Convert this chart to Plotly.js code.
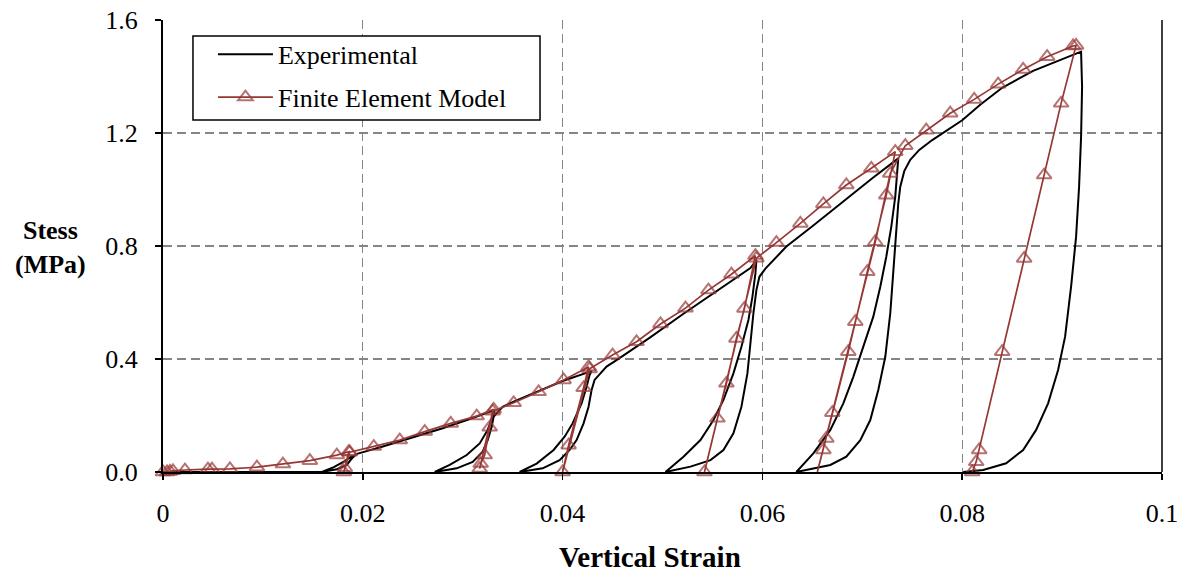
<!DOCTYPE html>
<html>
<head>
<meta charset="utf-8">
<script src="https://cdn.plot.ly/plotly-3.0.1.min.js"></script>
<style>html,body{margin:0;padding:0;background:#fff;}#chart{width:1186px;height:575px;}</style>
</head>
<body>
<div id="chart"></div>
<script>
// Experimental stress-strain curve (strain, stress MPa)
const expStrain = [
  0, 0.008, 0.0159, 0.0174, 0.0184, 0.0189, 0.0190,
  0.0181, 0.0171, 0.0159,
  0.0174, 0.0184, 0.0189, 0.0193,
  0.0195, 0.022, 0.025, 0.028, 0.0305, 0.0332,
  0.0330, 0.0325, 0.0317, 0.0304, 0.0287, 0.0272,
  0.0294, 0.0310, 0.0320, 0.0325, 0.0329, 0.0331, 0.0334, 0.0340, 0.0351,
  0.0375, 0.0400, 0.0429,
  0.0427, 0.0424, 0.0419, 0.0410, 0.0402, 0.0391, 0.0374, 0.0357,
  0.0380, 0.0397, 0.0407, 0.0414, 0.0421, 0.0426, 0.0429, 0.0432, 0.0436, 0.0444, 0.0454,
  0.0487, 0.0521, 0.0554, 0.0588, 0.0594,
  0.0593, 0.0590, 0.0586, 0.0579, 0.0571, 0.0561, 0.0551, 0.0538, 0.0521, 0.0503,
  0.0528, 0.0548, 0.0561, 0.0571, 0.0579, 0.0585, 0.0588, 0.0591, 0.0594, 0.0597, 0.0603, 0.0614, 0.0624,
  0.0650, 0.0680, 0.0710, 0.0736,
  0.0735, 0.0733, 0.0729, 0.0724, 0.0718, 0.0711, 0.0701, 0.0691, 0.0681, 0.0668, 0.0651, 0.0634,
  0.0668, 0.0684, 0.0698, 0.0708, 0.0716, 0.0723, 0.0728, 0.0731, 0.0734, 0.0736, 0.0738, 0.0742, 0.0748, 0.0757, 0.0770, 0.0785,
  0.0800, 0.0818, 0.0840, 0.0871, 0.0898, 0.0919,
  0.0920, 0.0919, 0.0917, 0.0914, 0.0909, 0.0903, 0.0896, 0.0886, 0.0874, 0.0861, 0.0844, 0.0821, 0.0801
];
const expStress = [
  0, 0.001, 0.0, 0.010, 0.025, 0.048, 0.058,
  0.037, 0.017, 0.0,
  0.010, 0.025, 0.048, 0.062,
  0.065, 0.090, 0.122, 0.155, 0.185, 0.219,
  0.196, 0.149, 0.101, 0.060, 0.025, 0.0,
  0.013, 0.036, 0.072, 0.113, 0.160, 0.196, 0.208, 0.231, 0.249,
  0.285, 0.322, 0.357,
  0.343, 0.302, 0.243, 0.172, 0.125, 0.078, 0.030, 0.0,
  0.013, 0.042, 0.078, 0.113, 0.172, 0.231, 0.290, 0.326, 0.343, 0.373, 0.396,
  0.475, 0.560, 0.640, 0.722, 0.750,
  0.703, 0.620, 0.538, 0.443, 0.349, 0.255, 0.184, 0.113, 0.054, 0.0,
  0.019, 0.042, 0.078, 0.137, 0.231, 0.349, 0.467, 0.562, 0.644, 0.691, 0.720, 0.762, 0.798,
  0.870, 0.955, 1.040, 1.110,
  1.057, 0.975, 0.868, 0.762, 0.656, 0.550, 0.444, 0.337, 0.243, 0.149, 0.066, 0.0,
  0.025, 0.054, 0.113, 0.184, 0.290, 0.408, 0.562, 0.715, 0.857, 0.950, 1.010, 1.065, 1.105, 1.140, 1.175, 1.210,
  1.245, 1.300, 1.360, 1.420, 1.458, 1.488,
  1.364, 1.187, 1.010, 0.833, 0.656, 0.479, 0.361, 0.243, 0.149, 0.078, 0.031, 0.007, 0.0
];

// Finite element model results
const femStrain = [
  0, 0.0004, 0.0007, 0.0010, 0.0022, 0.0045, 0.0049, 0.0067, 0.0094, 0.0120, 0.0147, 0.0174, 0.0186,
  0.0182, 0.0181, 0.0187,
  0.0211, 0.0237, 0.0262, 0.0288, 0.0314, 0.0331,
  0.0327, 0.0322, 0.0318, 0.0317, 0.0330,
  0.0351, 0.0376, 0.0401, 0.0426,
  0.0421, 0.0406, 0.0400, 0.0427,
  0.0450, 0.0474, 0.0498, 0.0523, 0.0546, 0.0569, 0.0593,
  0.0582, 0.0574, 0.0564, 0.0555, 0.0542, 0.0594,
  0.0614, 0.0638, 0.0661, 0.0684, 0.0709, 0.0733,
  0.0724, 0.0705, 0.0686, 0.0664, 0.0655, 0.0661, 0.0670, 0.0693, 0.0713, 0.0728, 0.0743,
  0.0764, 0.0788, 0.0812, 0.0836, 0.0861, 0.0885, 0.0911, 0.0914,
  0.0899, 0.0882, 0.0862, 0.0840, 0.0817, 0.0814, 0.0810
];
const femStress = [
  0, 0.0, 0.002, 0.004, 0.007, 0.010, 0.010, 0.011, 0.017, 0.028, 0.040, 0.060, 0.072,
  0.015, 0.0, 0.070,
  0.090, 0.113, 0.143, 0.172, 0.198, 0.222,
  0.158, 0.060, 0.030, 0.012, 0.215,
  0.245, 0.284, 0.326, 0.372,
  0.298, 0.095, 0.0, 0.365,
  0.414, 0.461, 0.524, 0.580, 0.644, 0.700, 0.766,
  0.579, 0.473, 0.314, 0.190, 0.0, 0.757,
  0.812, 0.880, 0.949, 1.016, 1.075, 1.134,
  0.980, 0.709, 0.426, 0.119, 0.0, 0.078, 0.210, 0.532, 0.815, 1.057, 1.155,
  1.210, 1.270, 1.319, 1.373, 1.425, 1.470, 1.508, 1.510,
  1.305, 1.051, 0.756, 0.426, 0.078, 0.036, 0.0
];
// indices of FEM path end points drawn without a marker
const femNoMarker = [58, 80];

const xTickVals = [0, 0.02, 0.04, 0.06, 0.08, 0.1];
const xTickText = ['0', '0.02', '0.04', '0.06', '0.08', '0.1'];
const yTickVals = [0, 0.4, 0.8, 1.2, 1.6];
const yTickText = ['0.0', '0.4', '0.8', '1.2', '1.6'];

const FONT = 'Liberation Serif, Times New Roman, serif';
const RED = '#953735';

const traces = [
  {
    x: expStrain, y: expStress, type: 'scatter', mode: 'lines',
    name: 'Experimental', legendgroup: 'a',
    line: {color: '#000000', width: 2},
    cliponaxis: false
  },
  {
    x: femStrain, y: femStress, type: 'scatter', mode: 'lines+markers',
    name: 'Finite Element Model', legendgroup: 'b',
    line: {color: RED, width: 1.7},
    marker: {symbol: 'triangle-up-open', size: femStrain.map((v, i) => femNoMarker.includes(i) ? 0 : 13),
             color: RED, line: {color: RED, width: 2}},
    cliponaxis: false
  }
];

const axisCommon = {
  showgrid: true, gridcolor: '#858585', gridwidth: 1.3, griddash: '9px,5px',
  showline: true, linecolor: '#000000', linewidth: 2,
  ticks: 'outside', ticklen: 6, tickwidth: 1.5, tickcolor: '#000000',
  zeroline: false,
  tickfont: {family: FONT, size: 26, color: '#000000'}
};

const layout = {
  width: 1186, height: 575,
  margin: {l: 163, r: 24, t: 20, b: 103},
  paper_bgcolor: '#ffffff', plot_bgcolor: '#ffffff',
  font: {family: FONT, size: 26, color: '#000000'},
  xaxis: Object.assign({}, axisCommon, {
    range: [0, 0.1], tickmode: 'array', tickvals: xTickVals, ticktext: xTickText,
    ticklabelstandoff: 11
  }),
  yaxis: Object.assign({}, axisCommon, {
    range: [0, 1.6], tickmode: 'array', tickvals: yTickVals, ticktext: yTickText,
    ticklabelstandoff: 12
  }),
  showlegend: true,
  legend: {
    x: 0.050, y: 0.976, xanchor: 'left', yanchor: 'top',
    bgcolor: 'rgba(0,0,0,0)', borderwidth: 0,
    font: {family: FONT, size: 26, color: '#000000'},
    tracegroupgap: 6, itemwidth: 55
  },
  shapes: [
    {type: 'line', xref: 'paper', yref: 'paper', x0: 1, x1: 1, y0: 0, y1: 1,
     line: {color: '#000000', width: 1.5}},
    {type: 'rect', xref: 'paper', yref: 'paper', x0: 0.030, x1: 0.3774, y0: 0.7788, y1: 0.9646,
     fillcolor: '#ffffff', layer: 'above', line: {color: '#000000', width: 1.5}}
  ],
  annotations: [
    {text: '<b>Stess</b><br><b>(MPa)</b>', xref: 'paper', yref: 'paper',
     x: -0.113, y: 0.497, xanchor: 'center', yanchor: 'middle', showarrow: false,
     font: {family: FONT, size: 26, color: '#000000'}},
    {text: '<b>Vertical Strain</b>', xref: 'paper', yref: 'paper',
     x: 0.4875, y: -0.188, xanchor: 'center', yanchor: 'middle', showarrow: false,
     font: {family: FONT, size: 29, color: '#000000'}}
  ]
};

Plotly.newPlot('chart', traces, layout, {displayModeBar: false, staticPlot: true});
</script>
</body>
</html>
